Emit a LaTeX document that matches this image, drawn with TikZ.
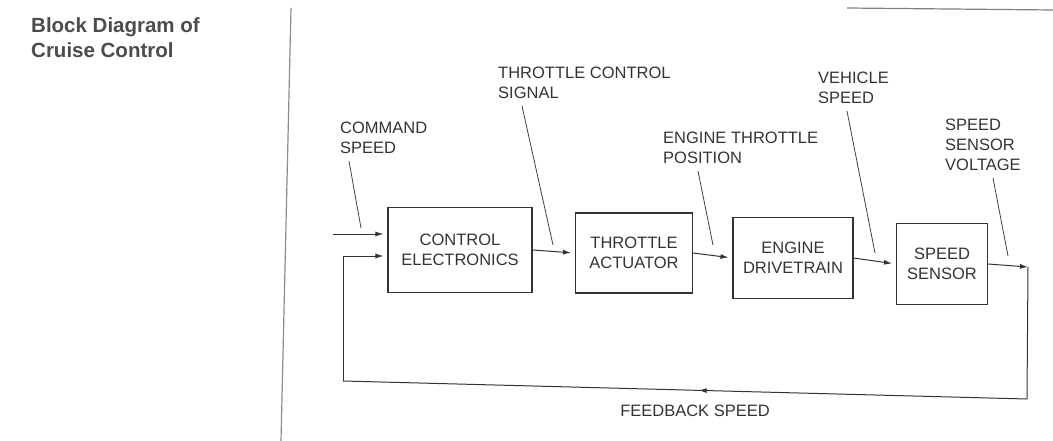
\documentclass[tikz,border=0pt]{standalone}
\usepackage{fontspec}
\setmainfont{Liberation Sans}
\usetikzlibrary{positioning, arrows.meta, decorations.markings}

\begin{document}
\begin{tikzpicture}[
    x=1pt, y=-1pt,
    font=\fontsize{16.5}{20}\selectfont,
    every node/.style={text=black!80},
    box/.style={
        draw=black!80,
        line width=1.1pt,
        align=center,
        inner sep=0pt
    },
    sig/.style={
        anchor=north west,
        align=left,
        inner sep=0pt
    },
    arrow/.style={
        -{Latex[length=8pt, width=5pt]},
        draw=black!80,
        line width=1pt,
        shorten >=4pt
    },
    lead/.style={
        draw=black!75,
        line width=0.8pt
    },
    midarrow/.style={
        decoration={markings,
            mark=at position 0.48 with {\arrow{Latex[length=8pt, width=5pt]}}},
        postaction={decorate}
    }
]

\useasboundingbox (0,0) rectangle (1053,441);

% page rules
\draw[black!45, line width=1.2pt] (291,8) -- (281,441);
\draw[black!50, line width=1.2pt] (847,8) -- (1053,10);

\node[anchor=north west, inner sep=0pt, align=left,
      font=\bfseries\fontsize{20.5}{25}\selectfont, text=black!70] (title) at (31,17)
    {Block Diagram of\\Cruise Control};

% blocks
\node[box, minimum width=144pt, minimum height=85pt] (ctrl) at (460,250)
    {CONTROL\\ELECTRONICS};
\node[box, minimum width=117pt, minimum height=80pt] (act) at (634,253)
    {THROTTLE\\ACTUATOR};
\node[box, minimum width=120pt, minimum height=81pt] (eng) at (793,258)
    {ENGINE\\DRIVETRAIN};
\node[box, minimum width=91pt, minimum height=81pt] (sens) at (942,264)
    {SPEED\\SENSOR};

% signal names
\node[sig] (cmdlbl) at (340,122) {COMMAND\\SPEED};
\node[sig] (tcslbl) at (498,67) {THROTTLE CONTROL\\SIGNAL};
\node[sig] (etplbl) at (663,132) {ENGINE THROTTLE\\POSITION};
\node[sig] (vslbl) at (818,72) {VEHICLE\\SPEED};
\node[sig] (ssvlbl) at (945,119) {SPEED\\SENSOR\\VOLTAGE};
\node[inner sep=0pt] (fblbl) at (695,411) {FEEDBACK SPEED};

% forward path
\coordinate (cmd) at (333,234);
\draw[arrow] (cmd) -- (cmd -| ctrl.west);
\draw[arrow] (ctrl.east) -- (act.west);
\draw[arrow] (act.east) -- (eng.west);
\draw[arrow] (eng.east) -- (sens.west);

% feedback loop
\coordinate (fbR) at (1028,267);
\coordinate (fbBR) at (1027,399);
\coordinate (fbBL) at (343,381);
\coordinate (fbL) at (343,256);
\draw[arrow, shorten >=0pt] (sens.east) -- (fbR);
\draw[draw=black!80, line width=1pt] (fbR) -- (fbBR);
\draw[draw=black!80, line width=1pt, midarrow] (fbBR) -- (fbBL);
\draw[arrow] (fbBL) -- (fbL) -- (fbL -| ctrl.west);

% pointers
\coordinate (cmdtip) at (361,228);
\coordinate (tcstip) at (553,245);
\coordinate (etptip) at (713,245);
\coordinate (vstip) at (875,253);
\coordinate (ssvtip) at (1008,256);
\draw[lead] ([shift={(9,7)}]cmdlbl.south west) -- (cmdtip);
\draw[lead] ([shift={(24,7)}]tcslbl.south west) -- (tcstip);
\draw[lead] ([shift={(35,7)}]etplbl.south west) -- (etptip);
\draw[lead] ([shift={(29,7)}]vslbl.south west) -- (vstip);
\draw[lead] ([shift={(48,7)}]ssvlbl.south west) -- (ssvtip);

\end{tikzpicture}
\end{document}
